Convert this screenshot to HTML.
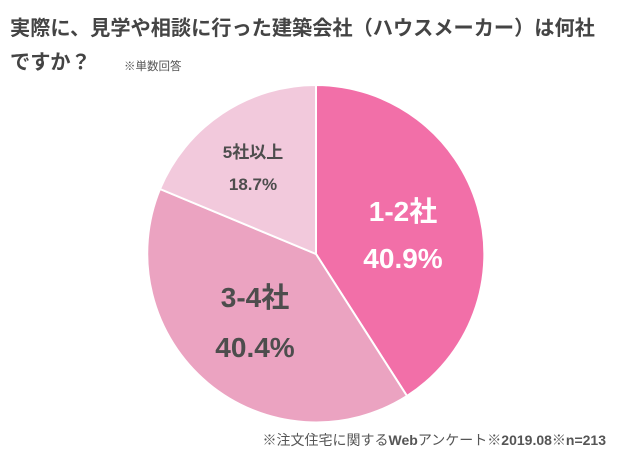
<!DOCTYPE html>
<html><head><meta charset="utf-8"><style>
html,body{margin:0;padding:0;background:#fff;}
svg{display:block;}
text{font-family:"Liberation Sans","Noto Sans CJK JP",sans-serif;}
</style></head><body>
<svg width="618" height="463" viewBox="0 0 618 463" xmlns="http://www.w3.org/2000/svg">
<text x="10" y="35" font-size="20.2" font-weight="bold" fill="#444">実際に、見学や相談に行った建築会社（ハウスメーカー）は何社</text>
<text x="10" y="69" font-size="20.2" font-weight="bold" fill="#444">ですか？</text>
<text x="124" y="70" font-size="11.5" fill="#555">※単数回答</text>
<g stroke="#fff" stroke-width="2" stroke-linejoin="round">
<path d="M316,254 L316,85 A169,169 0 0 1 407,396 Z" fill="#f26fa8"/>
<path d="M316,254 L407,396 A169,169 0 0 1 160,189 Z" fill="#eba3c1"/>
<path d="M316,254 L160,189 A169,169 0 0 1 316,85 Z" fill="#f2c9dc"/>
</g>
<g font-weight="bold" text-anchor="middle">
<text x="403" y="221" font-size="28" fill="#fff">1-2社</text>
<text x="403" y="268" font-size="28" fill="#fff">40.9%</text>
<text x="255" y="307" font-size="28" fill="#4d4d4d">3-4社</text>
<text x="255" y="357" font-size="28" fill="#4d4d4d">40.4%</text>
<text x="253" y="158" font-size="17" fill="#4d4d4d">5社以上</text>
<text x="253" y="190" font-size="17" fill="#4d4d4d">18.7%</text>
</g>
<text x="606" y="445" font-size="14" fill="#555" text-anchor="end">※注文住宅に関する<tspan font-weight="bold">Web</tspan>アンケート※<tspan font-weight="bold">2019.08</tspan>※<tspan font-weight="bold">n=213</tspan></text>
</svg>
</body></html>
